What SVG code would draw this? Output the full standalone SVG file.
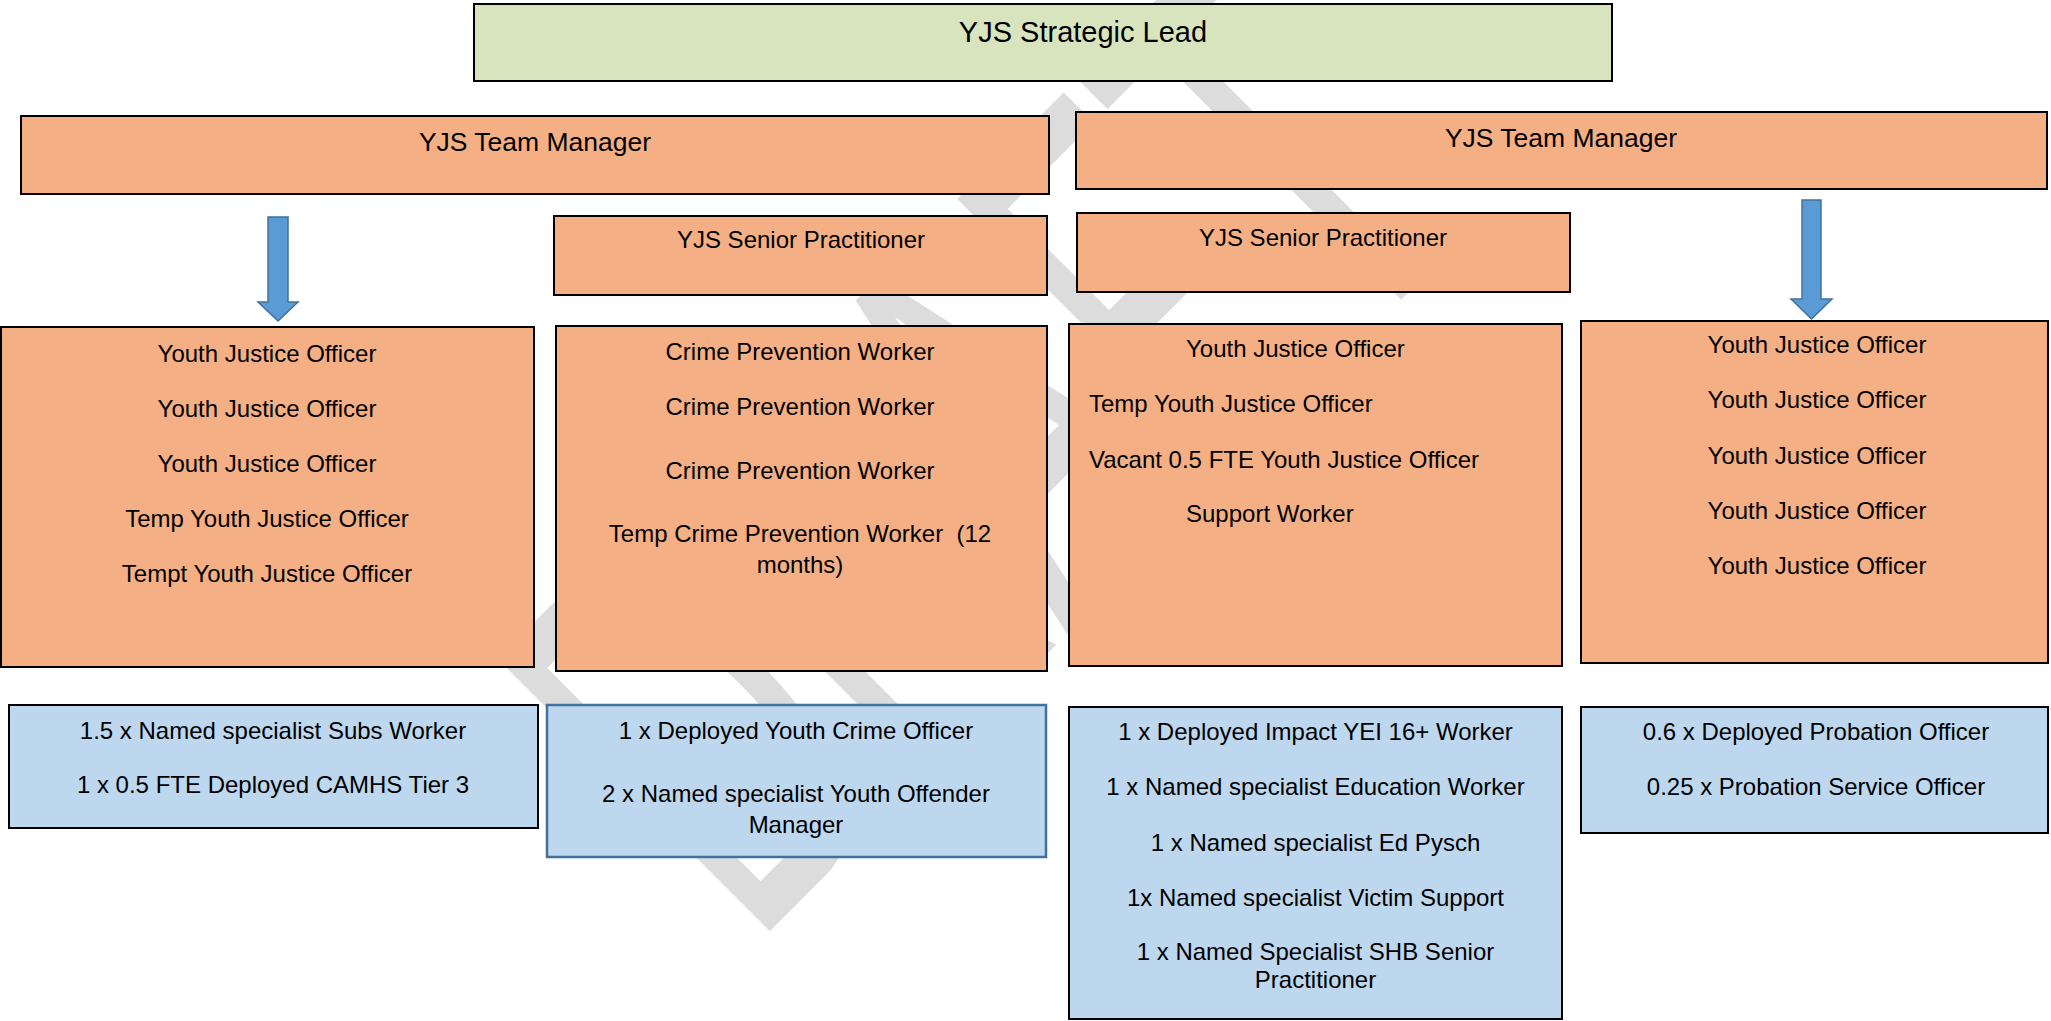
<svg xmlns="http://www.w3.org/2000/svg" width="2051" height="1021" viewBox="0 0 2051 1021">
<style>
  text { font-family: "Liberation Sans", Arial, sans-serif; fill: #000; }
  .green { fill: #D7E4BD; stroke: #000; stroke-width: 2; }
  .orange { fill: #F4B084; stroke: #000; stroke-width: 2; }
  .blue { fill: #BDD7EE; stroke: #000; stroke-width: 2; }
  .blue2 { fill: #BDD7EE; stroke: #41719C; stroke-width: 2.5; }
  .arrow { fill: #5B9BD5; stroke: #41719C; stroke-width: 1.5; }
  .t24 { font-size: 24px; }
  .c { text-anchor: middle; }
  .wm { font-size: 560px; fill: #DCDCDC; }
</style>
<rect x="0" y="0" width="2051" height="1021" fill="#FFFFFF"/>
<g id="watermark">
  <text class="wm" transform="translate(752,949) rotate(-45) scale(0.55,1)" x="0" y="0">DRAFT</text>
</g>
<g id="connectors">
  <path class="arrow" d="M268,217 L288,217 L288,302 L298,302 L278,321 L258,302 L268,302 Z"/>
  <path class="arrow" d="M1802,200 L1821,200 L1821,299 L1832,299 L1811.5,319 L1791,299 L1802,299 Z"/>
</g>
<g id="strategic-lead">
  <rect class="green" x="474" y="4" width="1138" height="77"/>
  <text class="c" x="1083" y="42" font-size="29">YJS Strategic Lead</text>
</g>
<g id="team-manager-left">
  <rect class="orange" x="21" y="116" width="1028" height="78"/>
  <text class="c" x="535" y="151" font-size="26.5">YJS Team Manager</text>
</g>
<g id="team-manager-right">
  <rect class="orange" x="1076" y="112" width="971" height="77"/>
  <text class="c" x="1561" y="147" font-size="26.5">YJS Team Manager</text>
</g>
<g id="senior-practitioner-left">
  <rect class="orange" x="554" y="216" width="493" height="79"/>
  <text class="c t24" x="801" y="248">YJS Senior Practitioner</text>
</g>
<g id="senior-practitioner-right">
  <rect class="orange" x="1077" y="213" width="493" height="79"/>
  <text class="c t24" x="1323" y="246">YJS Senior Practitioner</text>
</g>
<g id="team-a">
  <rect class="orange" x="1" y="327" width="533" height="340"/>
  <text class="c t24" x="267" y="362">Youth Justice Officer</text>
  <text class="c t24" x="267" y="417">Youth Justice Officer</text>
  <text class="c t24" x="267" y="472">Youth Justice Officer</text>
  <text class="c t24" x="267" y="527">Temp Youth Justice Officer</text>
  <text class="c t24" x="267" y="582">Tempt Youth Justice Officer</text>
</g>
<g id="team-b">
  <rect class="orange" x="556" y="326" width="491" height="345"/>
  <text class="c t24" x="800" y="360">Crime Prevention Worker</text>
  <text class="c t24" x="800" y="415">Crime Prevention Worker</text>
  <text class="c t24" x="800" y="479">Crime Prevention Worker</text>
  <text class="c t24" x="800" y="542" xml:space="preserve">Temp Crime Prevention Worker  (12</text>
  <text class="c t24" x="800" y="573">months)</text>
</g>
<g id="team-c">
  <rect class="orange" x="1069" y="324" width="493" height="342"/>
  <text class="t24" x="1186" y="357">Youth Justice Officer</text>
  <text class="t24" x="1089" y="412">Temp Youth Justice Officer</text>
  <text class="t24" x="1089" y="468">Vacant 0.5 FTE Youth Justice Officer</text>
  <text class="t24" x="1186" y="522">Support Worker</text>
</g>
<g id="team-d">
  <rect class="orange" x="1581" y="321" width="467" height="342"/>
  <text class="c t24" x="1817" y="353">Youth Justice Officer</text>
  <text class="c t24" x="1817" y="408">Youth Justice Officer</text>
  <text class="c t24" x="1817" y="464">Youth Justice Officer</text>
  <text class="c t24" x="1817" y="519">Youth Justice Officer</text>
  <text class="c t24" x="1817" y="574">Youth Justice Officer</text>
</g>
<g id="specialists-a">
  <rect class="blue" x="9" y="705" width="529" height="123"/>
  <text class="c t24" x="273" y="739">1.5 x Named specialist Subs Worker</text>
  <text class="c t24" x="273" y="793">1 x 0.5 FTE Deployed CAMHS Tier 3</text>
</g>
<g id="specialists-b">
  <rect class="blue2" x="547" y="705" width="499" height="152"/>
  <text class="c t24" x="796" y="739">1 x Deployed Youth Crime Officer</text>
  <text class="c t24" x="796" y="802">2 x Named specialist Youth Offender</text>
  <text class="c t24" x="796" y="833">Manager</text>
</g>
<g id="specialists-c">
  <rect class="blue" x="1069" y="707" width="493" height="312"/>
  <text class="c t24" x="1315.5" y="740">1 x Deployed Impact YEI 16+ Worker</text>
  <text class="c t24" x="1315.5" y="795">1 x Named specialist Education Worker</text>
  <text class="c t24" x="1315.5" y="851">1 x Named specialist Ed Pysch</text>
  <text class="c t24" x="1315.5" y="906">1x Named specialist Victim Support</text>
  <text class="c t24" x="1315.5" y="960">1 x Named Specialist SHB Senior</text>
  <text class="c t24" x="1315.5" y="988">Practitioner</text>
</g>
<g id="specialists-d">
  <rect class="blue" x="1581" y="707" width="467" height="126"/>
  <text class="c t24" x="1816" y="740">0.6 x Deployed Probation Officer</text>
  <text class="c t24" x="1816" y="795">0.25 x Probation Service Officer</text>
</g>
</svg>
